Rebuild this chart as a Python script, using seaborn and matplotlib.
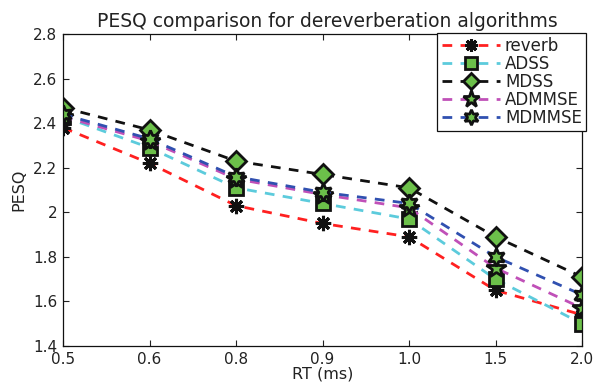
import matplotlib
matplotlib.use("Agg")
import matplotlib.pyplot as plt
import seaborn as sns
import numpy as np

rt_labels = ["0.5", "0.6", "0.8", "0.9", "1.0", "1.5", "2.0"]
reverb = [2.38, 2.22, 2.03, 1.95, 1.89, 1.65, 1.54]
adss = [2.43, 2.29, 2.11, 2.04, 1.97, 1.70, 1.50]
mdss = [2.47, 2.37, 2.23, 2.17, 2.11, 1.89, 1.71]
admmse = [2.43, 2.32, 2.15, 2.08, 2.02, 1.75, 1.57]
mdmmse = [2.44, 2.33, 2.16, 2.09, 2.04, 1.80, 1.63]

sns.set_style("white")
plt.rcParams['font.family'] = ['DejaVu Sans']

fig = plt.figure(figsize=(6.0, 3.83), dpi=100)
ax = fig.add_axes([0.105, 0.0966, 0.865, 0.8144])

green = "#6cc04a"
series = [
    ("reverb", reverb, "#ff2020", (8, 2, 0), 11, 2.2, "#111111"),
    ("ADSS", adss, "#5ccbdc", "s", 10, 2.0, green),
    ("MDSS", mdss, "#111111", "D", 10, 2.0, green),
    ("ADMMSE", admmse, "#c050b8", "*", 15, 2.0, green),
    ("MDMMSE", mdmmse, "#3050b0", (6, 1, 0), 13, 2.0, green),
]
x = np.arange(len(rt_labels))
for name, vals, col, mk, ms, mew, fc in series:
    sns.lineplot(x=x, y=vals, ax=ax, color=col, linestyle=(0, (3.5, 3)),
                 linewidth=2.0, marker=mk, markersize=ms,
                 markerfacecolor=fc, markeredgecolor="#111111",
                 markeredgewidth=mew, label=name)

ax.set_xlim(0, 6)
ax.set_ylim(1.4, 2.8)
ax.set_xticks(x)
ax.set_xticklabels(rt_labels)
ax.set_yticks([1.4, 1.6, 1.8, 2.0, 2.2, 2.4, 2.6, 2.8])
ax.set_yticklabels(["1.4", "1.6", "1.8", "2", "2.2", "2.4", "2.6", "2.8"])
ax.tick_params(direction="in", length=4, width=0.8, labelsize=11,
               top=True, right=True, bottom=True, left=True, colors="#222222",
               pad=4)
for s in ax.spines.values():
    s.set_color("#111111")
    s.set_linewidth(0.9)
ax.set_title("PESQ comparison for dereverberation algorithms", fontsize=13.5,
             pad=5, x=0.51, color="#222222")
ax.set_xlabel("RT (ms)", fontsize=11.5, labelpad=0, color="#222222")
ax.set_ylabel("PESQ", fontsize=11.5, labelpad=5, color="#222222")

leg = ax.legend(loc="upper right", bbox_to_anchor=(586 / 600, 1 - 33 / 383),
                bbox_transform=fig.transFigure,
                prop={"size": 12}, frameon=True, fancybox=False,
                handlelength=3.5, borderpad=0.25, labelspacing=0.0,
                handletextpad=0.3, borderaxespad=0.0, markerscale=0.85)
leg.get_frame().set_edgecolor("#111111")
leg.get_frame().set_linewidth(0.9)
leg.get_frame().set_alpha(1.0)
for t in leg.get_texts():
    t.set_color("#222222")

fig.savefig("out.png", dpi=100, facecolor="white")
